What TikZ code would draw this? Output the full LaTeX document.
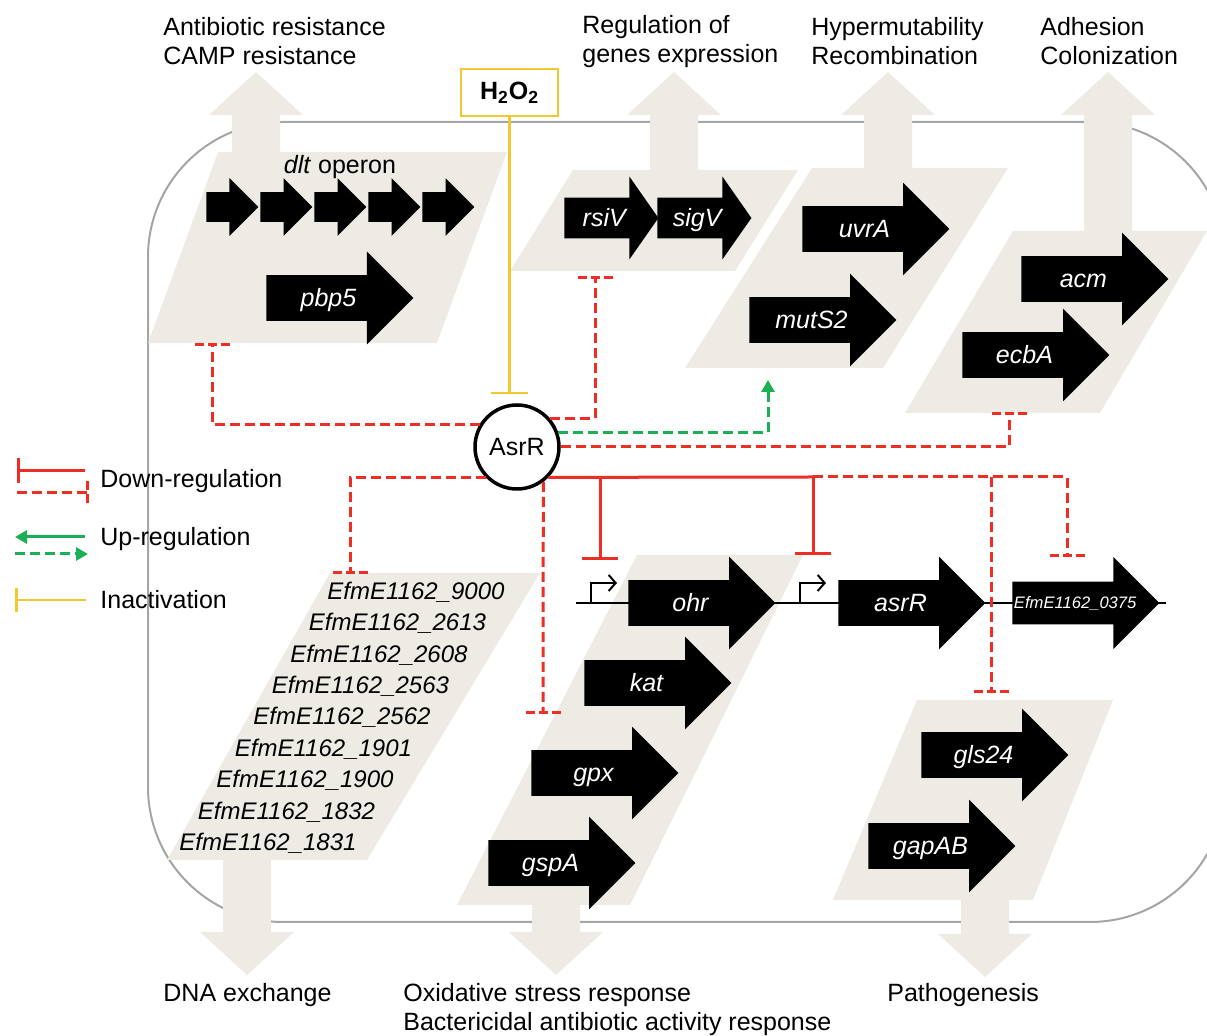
\documentclass[tikz,border=0pt]{standalone}
\usepackage{fontspec}
\setmainfont{Liberation Sans}
\usepackage{tikz}
\usetikzlibrary{arrows.meta}
\usetikzlibrary{shapes.arrows}
\definecolor{cellbg}{RGB}{237,235,228}
\definecolor{cellline}{RGB}{165,165,165}
\definecolor{dred}{RGB}{238,45,36}
\definecolor{dgreen}{RGB}{28,176,86}
\definecolor{dyellow}{RGB}{243,199,48}
\newcommand\fatup[3]{\fill[cellbg] (#1-24,#2) -- (#1-24,#3+43) -- (#1-47,#3+43) -- (#1,#3) -- (#1+47,#3+43) -- (#1+24,#3+43) -- (#1+24,#2) -- cycle;}
\newcommand\fatdown[3]{\fill[cellbg] (#1-24,#2) -- (#1-24,#3-43) -- (#1-47,#3-43) -- (#1,#3) -- (#1+47,#3-43) -- (#1+24,#3-43) -- (#1+24,#2) -- cycle;}
\tikzstyle{gene}=[single arrow,fill=black,text=white,font=\fontsize{12.5}{14}\selectfont\itshape,inner xsep=0pt,inner ysep=7pt,text height=8.5pt,text depth=0pt,anchor=tail,minimum height=73.5pt,minimum width=46pt,single arrow head extend=11.75pt]
\tikzstyle{small gene}=[gene,inner ysep=7.25pt,text height=0pt,text depth=0pt,minimum height=26pt,minimum width=28.5pt,single arrow head extend=7pt]
\tikzstyle{mid gene}=[gene,inner ysep=5.75pt,minimum height=47pt,minimum width=41pt,single arrow head extend=10.5pt,single arrow tip angle=110]
\tikzstyle{lbl}=[font=\fontsize{12.5}{14.5}\selectfont,align=left,anchor=west,inner sep=0pt]
\tikzstyle{efm}=[font=\fontsize{12}{14}\selectfont\itshape,inner sep=0pt]
\tikzstyle{downreg}=[dred,line width=1.5pt,-{Bar[width=18pt]}]
\tikzstyle{downdash}=[dred,line width=1.5pt,dash pattern=on 5pt off 2.5pt]
\tikzstyle{dashbar}=[dred,line width=1.5pt,dash pattern=on 4.5pt off 2pt]
\tikzstyle{upreg}=[dgreen,line width=1.5pt,-{Triangle[length=6pt,width=6.5pt]}]
\tikzstyle{updash}=[upreg,dash pattern=on 5pt off 2.5pt]
\tikzstyle{inact}=[dyellow,line width=1.3pt,-{Bar[width=18.5pt]}]
\tikzstyle{promoter}=[black,line width=1pt,-{Straight Barb[length=3.5pt,width=8pt]}]

\begin{document}
\begin{tikzpicture}[x=0.5pt,y=-0.5pt]
	\useasboundingbox (0,0) rectangle (1207,1036);
	\draw[cellline,line width=1pt,rounded corners=67.5pt] (148,122) rectangle (1225,922);
	\fatup{256}{155}{72}
	\fatup{674}{172}{72}
	\fatup{888}{170}{72}
	\fatup{1108}{234}{72}
	\fatdown{247}{858}{975}
	\fatdown{556}{903}{975}
	\fatdown{985}{898}{977}
	\fill[cellbg] (218,152) -- (507,152) -- (437,343) -- (148,343) -- cycle;
	\fill[cellbg] (573,170) -- (798,170) -- (735,271) -- (510,271) -- cycle;
	\fill[cellbg] (812,168) -- (1008,168) -- (883,368) -- (685,368) -- cycle;
	\fill[cellbg] (1013,231) -- (1207,231) -- (1100,413) -- (905,413) -- cycle;
	\fill[cellbg] (330,573) -- (540,573) -- (367,860) -- (167,860) -- cycle;
	\fill[cellbg] (637,555) -- (803,555) -- (630,905) -- (457,905) -- cycle;
	\fill[cellbg] (917,700) -- (1113,700) -- (1033,900) -- (833,900) -- cycle;

	\node[lbl] (tres) at (163,41.5) {Antibiotic resistance\\CAMP resistance};
	\node[lbl] (tgen) at (582,41.5) {Regulation of\\genes expression};
	\node[lbl] (tmut) at (811,41.5) {Hypermutability\\Recombination};
	\node[lbl] (tadh) at (1040,41.5) {Adhesion\\Colonization};
	\node[lbl] (tdna) at (163,995) {DNA exchange};
	\node[lbl] (tox) at (403,1009.5) {Oxidative stress response\\Bactericidal antibiotic activity response};
	\node[lbl] (tpath) at (887,995) {Pathogenesis};

	\coordinate (dnaL) at (576,603);
	\coordinate (dnaR) at (1166,603);
	\coordinate (prom1) at (591,603);
	\coordinate (prom2) at (800,603);
	\draw[line width=1pt] (dnaL) -- (dnaR);
	\draw[promoter] (prom1) |- ++(26,-20);
	\draw[promoter] (prom2) |- ++(26,-20);

	\node[lbl,anchor=center] (dltop) at (340,167) {\textit{dlt} operon};
	\foreach \i in {1,...,5}
	  \node[small gene] (dlt\i) at ({206+54*(\i-1)},207) {};
	\node[gene] (pbp5) at (266,298) {pbp5};
	\node[mid gene] (rsiv) at (564,218) {rsiV};
	\node[mid gene] (sigv) at (657,218) {sigV};
	\node[gene] (uvra) at (802,229) {uvrA};
	\node[gene] (muts2) at (749,320) {mutS2};
	\node[gene] (acm) at (1021,279) {acm};
	\node[gene] (ecba) at (962,355) {ecbA};
	\node[gene] (ohr) at (628,603) {ohr};
	\node[gene] (asrrg) at (838,603) {asrR};
	\node[gene,font=\fontsize{8.3}{10}\selectfont\itshape,text height=6pt] (efm0375) at (1012,603) {EfmE1162\_0375};
	\node[gene] (kat) at (584,683) {kat};
	\node[gene] (gpx) at (531,773) {gpx};
	\node[gene] (gspa) at (488,863) {gspA};
	\node[gene] (gls24) at (921,755) {gls24};
	\node[gene] (gapab) at (868,846) {gapAB};
	\foreach \g [count=\i] in {9000,2613,2608,2563,2562,1901,1900,1832,1831}
	  \node[efm] (efm\i) at ({416-18.5*(\i-1)},{592+31.4*(\i-1)}) {EfmE1162\_\g};

	\node[draw=dyellow,line width=1.2pt,fill=white,minimum width=48.5pt,minimum height=23.5pt,inner sep=0pt,font=\fontsize{12.5}{14}\selectfont] (h2o2) at (509.5,92.5) {\textbf{H\textsubscript{2}O\textsubscript{2}}};
	\node[circle,draw,line width=1.75pt,fill=white,minimum size=42pt,inner sep=0pt,font=\fontsize{12.5}{14}\selectfont] (asrr) at (517,447) {AsrR};

	\coordinate (tdlt) at (212,345);
	\coordinate (trsi) at (595,278);
	\coordinate (tuvr) at (768,380);
	\coordinate (tecb) at (1009,414);
	\coordinate (tlist) at (350,573);
	\coordinate (j1) at (600,477);
	\coordinate (j2) at (813,477);
	\coordinate (j3) at (991,477);
	\coordinate (tohr) at (600,560);
	\coordinate (tasr) at (813,555);
	\coordinate (t0375) at (1067,556);
	\coordinate (tgls) at (991,692);
	\coordinate (tkat) at (543,713);

	\draw[inact,shorten >=4.5pt] (h2o2.south) -- (h2o2.south |- asrr.north);
	\draw[downdash] (asrr.149) -| (tdlt);
	\draw[downdash] (asrr.41) -| (trsi);
	\draw[updash] (asrr.19) -| (tuvr);
	\draw[downdash] (asrr.east) -| (tecb);
	\draw[downdash] (asrr.224) -| (tlist);
	\draw[downdash] (asrr.307) -- (tkat);
	\draw[dred,line width=1.5pt] (asrr.316) -- (j2);
	\draw[downreg] (j1) -- (tohr);
	\draw[downreg] (j2) -- (tasr);
	\draw[downdash] (j2) -| (t0375);
	\draw[downdash] (j3) -- (tgls);
	\foreach \t in {tdlt,trsi,tecb,tlist,t0375,tgls,tkat}
	  \draw[dashbar] (\t) ++(-17.5,0) -- ++(35,0);

	\node[lbl] (ldown) at (100,481) {Down-regulation};
	\node[lbl] (lup) at (100,539) {Up-regulation};
	\node[lbl] (linact) at (100,600) {Inactivation};
	\draw[downreg,-{Bar[width=12.5pt]}] ([xshift=-7.5pt,yshift=5pt]ldown.west) -- ++(-68,0);
	\draw[downdash] ([xshift=-41.5pt,yshift=-6pt]ldown.west) -- ++(70,0);
	\draw[dashbar] ([xshift=-6.5pt,yshift=0pt]ldown.west) -- ++(0,25);
	\draw[upreg] ([xshift=-7.5pt,yshift=1pt]lup.west) -- ++(-70,0);
	\draw[updash] ([xshift=-42.5pt,yshift=-7.5pt]lup.west) -- ++(73,0);
	\draw[inact,-{Bar[width=12pt]}] ([xshift=-7pt]linact.west) -- ++(-71,0);
\end{tikzpicture}
\end{document}
